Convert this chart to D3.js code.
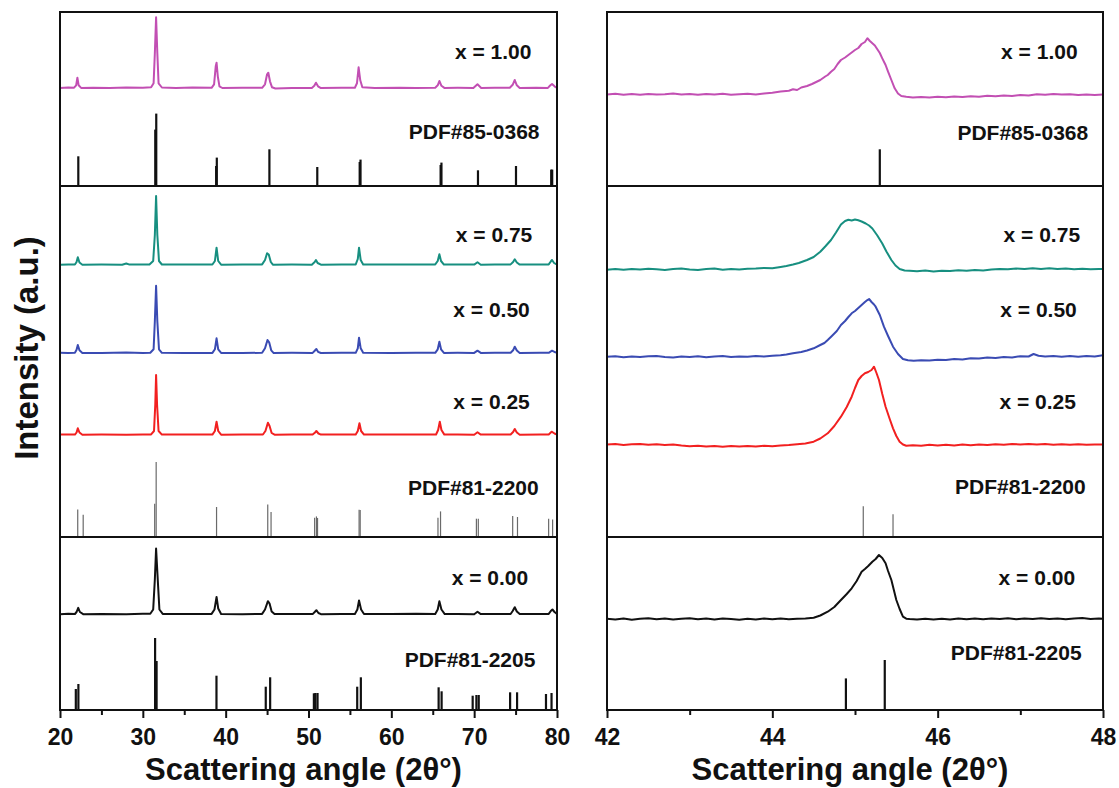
<!DOCTYPE html>
<html><head><meta charset="utf-8">
<script src="https://cdn.jsdelivr.net/npm/d3@7"></script>
<style>
html,body{margin:0;padding:0;background:#fff;}
text{font-family:"Liberation Sans",Arial,Helvetica,sans-serif;font-weight:bold;fill:#111;}
</style></head>
<body><svg id="chart" width="1119" height="788"></svg>
<script>
// ---------------- DATA ----------------
const sampleNames = ["x = 1.00","x = 0.75","x = 0.50","x = 0.25","x = 0.00"];
const refNames = ["PDF#85-0368","PDF#81-2200","PDF#81-2205"];
const sampleColors = ["#c24fb3","#178f80","#3a4bb3","#f22020","#111111"];

// stacking offsets (a.u.)
const wideOffsets = [621.7, 445, 356.7, 275, 95.5];
const zoomOffsets = [615, 440.5, 353, 265, 91];
const refOffsets = [524, 173, 0];
const dividerLevels = [524, 173];

// full-range patterns [2θ, intensity]
const wide100 = [[20.0,0.4],[21.0,0.8],[21.7,0.6],[21.95,3],[22.1,10.6],[22.25,3],[22.55,0.4],[24.0,0.6],[26.0,0.2],[28.0,0.7],[30.0,0.5],[31.0,1],[31.3,5],[31.45,35],[31.6,71],[31.75,35],[31.9,5],[32.3,0.8],[34.0,0.4],[36.0,0.7],[38.3,0.5],[38.6,4],[38.8,22],[38.9,25.6],[39.05,12],[39.25,2],[39.6,0.3],[42.0,0.6],[44.4,0.5],[44.75,4],[45.0,14],[45.15,15.6],[45.35,7],[45.6,1],[46.0,-0.2],[48.0,0.4],[50.4,0.4],[50.7,2.5],[50.9,5.6],[51.15,2],[51.5,0.2],[54.0,0.5],[55.6,0.6],[55.85,5],[56.05,21],[56.25,8],[56.5,1],[58.0,0.3],[61.0,0.6],[63.0,0.2],[65.3,0.6],[65.6,3],[65.8,7.3],[66.05,2.5],[66.4,0.4],[68.0,0.5],[69.9,0.3],[70.4,4],[70.85,0.3],[72.5,0.6],[74.3,0.5],[74.65,3.5],[74.9,8.3],[75.15,3],[75.5,0.3],[77.5,0.6],[78.9,0.4],[79.2,3],[79.4,4.3],[79.7,2],[80.0,0.4]];
const wide075 = [[20.0,0.3],[21.0,0.6],[21.8,0.5],[22.0,3],[22.15,7.7],[22.35,2.5],[22.7,0.3],[25.0,0.5],[27.5,0.3],[28.0,1.5],[28.4,0.4],[30.8,0.5],[31.25,4],[31.45,30],[31.6,69],[31.75,30],[31.95,4],[32.3,0.5],[35.0,0.6],[38.4,0.5],[38.7,4],[38.9,17.3],[39.1,4],[39.45,0.3],[42.0,0.5],[44.4,0.6],[44.75,5],[45.0,11.7],[45.2,10.5],[45.45,3],[45.7,0.3],[48.0,0.5],[50.4,0.3],[50.75,3],[50.9,5],[51.1,2],[51.5,0.3],[54.0,0.6],[55.7,0.6],[55.95,6],[56.1,17.3],[56.3,5],[56.6,0.6],[60.0,0.4],[63.0,0.5],[65.3,0.6],[65.6,4],[65.8,10.7],[66.0,4],[66.35,0.4],[68.0,0.6],[70.0,0.4],[70.4,2.7],[70.8,0.3],[72.5,0.5],[74.4,0.6],[74.7,3],[74.9,5.7],[75.15,2.5],[75.5,0.4],[78.0,0.5],[79.0,0.6],[79.25,3.5],[79.4,5],[79.65,2],[80.0,0.3]];
const wide050 = [[20.0,0.5],[21.0,0.3],[21.8,0.6],[22.0,3.5],[22.15,8.3],[22.35,3],[22.7,0.4],[25.0,0.3],[28.0,0.8],[30.0,0.3],[30.9,0.6],[31.3,4],[31.45,32],[31.6,67.6],[31.75,32],[31.95,4],[32.3,0.5],[35.0,0.3],[38.4,0.4],[38.7,4],[38.9,15],[39.1,4],[39.45,0.4],[42.0,0.3],[44.4,0.5],[44.75,5],[45.05,13.3],[45.25,11],[45.5,3],[45.8,0.2],[48.0,0.5],[50.5,0.4],[50.75,2.5],[50.95,4.3],[51.15,1.5],[51.5,0.3],[54.0,0.5],[55.7,0.5],[55.95,5],[56.1,15.6],[56.3,5],[56.6,0.5],[60.0,0.3],[63.0,0.6],[65.3,0.5],[65.6,4],[65.8,11.6],[66.0,4],[66.35,0.4],[68.0,0.5],[70.0,0.4],[70.4,2.6],[70.8,0.4],[72.5,0.5],[74.4,0.5],[74.7,3],[74.9,6.6],[75.15,2.8],[75.5,0.4],[78.0,0.5],[79.0,0.5],[79.4,2.6],[79.8,1],[80.0,0.5]];
const wide025 = [[20.0,0.4],[21.0,0.5],[21.8,0.4],[22.0,2.5],[22.15,6.7],[22.35,2.5],[22.7,0.3],[25.0,0.5],[28.0,0.3],[30.0,0.5],[31.0,0.6],[31.35,4],[31.5,30],[31.6,60],[31.72,30],[31.9,4],[32.3,0.4],[35.0,0.5],[38.4,0.4],[38.7,4],[38.9,13.3],[39.1,4],[39.45,0.3],[42.0,0.5],[44.5,0.5],[44.8,4],[45.1,12.3],[45.3,9],[45.55,2],[45.9,0.3],[48.0,0.4],[50.5,0.4],[50.8,2.5],[50.95,4],[51.2,1.5],[51.5,0.4],[54.0,0.5],[55.7,0.4],[55.95,4],[56.15,11.7],[56.35,4],[56.7,0.4],[60.0,0.5],[63.0,0.4],[65.4,0.5],[65.65,5],[65.85,13.3],[66.05,5],[66.4,0.4],[68.0,0.5],[70.0,0.3],[70.4,2.7],[70.8,0.4],[72.5,0.4],[74.4,0.5],[74.7,3],[74.9,6],[75.15,2.5],[75.5,0.3],[78.0,0.4],[79.0,0.5],[79.35,3.3],[79.7,1.5],[80.0,0.4]];
const wide000 = [[20.0,0.3],[21.0,0.8],[21.8,0.5],[22.0,2.5],[22.2,6.6],[22.4,2.5],[22.8,0.3],[25.0,0.6],[28.0,0.2],[30.0,0.7],[30.9,0.8],[31.25,5],[31.45,35],[31.6,66],[31.8,35],[32.0,5],[32.4,0.6],[35.0,0.4],[38.3,0.6],[38.65,5],[38.9,17.6],[39.1,6],[39.45,0.5],[42.0,0.3],[44.4,0.6],[44.75,5],[45.1,13.3],[45.3,11],[45.55,3],[45.9,0.4],[48.0,0.6],[50.5,0.4],[50.75,2.5],[50.95,4.3],[51.2,1.5],[51.5,0.3],[54.0,0.6],[55.6,0.6],[55.9,5],[56.1,14],[56.35,5],[56.7,0.5],[60.0,0.4],[63.0,0.7],[65.3,0.5],[65.6,5],[65.8,13.3],[66.05,5],[66.45,0.4],[68.0,0.5],[70.0,0.3],[70.4,2.7],[70.8,0.4],[72.5,0.6],[74.4,0.5],[74.65,3.5],[74.9,7.3],[75.15,3],[75.5,0.4],[78.0,0.5],[79.0,0.6],[79.25,3.5],[79.45,5],[79.7,2.5],[80.0,0.5]];

// zoomed (200) region patterns [2θ, intensity]
const zoom100 = [[42.0,0.6],[42.1,1.2],[42.2,0.2],[42.3,0.9],[42.4,0.3],[42.5,1.1],[42.6,0.4],[42.7,0.8],[42.8,1.5],[42.9,0.5],[43.0,1],[43.1,0.3],[43.2,0.9],[43.3,0.4],[43.4,1.2],[43.5,0.2],[43.6,0.8],[43.7,1.3],[43.8,0.6],[43.9,1.5],[44.0,2.2],[44.1,3.5],[44.2,4.2],[44.25,5.7],[44.3,5],[44.35,7.5],[44.42,9],[44.48,11],[44.53,13],[44.58,15],[44.64,18.5],[44.67,20],[44.71,23.3],[44.75,26],[44.79,31],[44.83,35],[44.88,37.5],[44.92,40],[44.96,42.5],[45.0,45],[45.04,47],[45.08,51],[45.12,53],[45.15,56.7],[45.18,54],[45.21,51.7],[45.24,49.5],[45.27,45.7],[45.3,42],[45.33,36.7],[45.37,30],[45.4,23.3],[45.44,15],[45.48,6.7],[45.52,1.5],[45.56,-1],[45.62,-1.8],[45.7,-2.5],[45.8,-2],[45.9,-2.6],[46.0,-1.8],[46.1,-2.3],[46.2,-1.5],[46.3,-2],[46.4,-1.2],[46.5,-1.7],[46.6,-0.8],[46.7,-1.3],[46.8,-0.4],[46.9,-0.9],[47.0,0],[47.1,-0.5],[47.2,0.8],[47.3,0.2],[47.4,1],[47.5,0.4],[47.6,0.7],[47.7,0],[47.8,0.6],[47.9,0.1],[48.0,0.5]];
const zoom075 = [[42.0,-0.3],[42.1,0.5],[42.2,-0.2],[42.3,0.6],[42.4,0],[42.5,0.8],[42.6,0.2],[42.7,-0.4],[42.8,0.5],[42.9,1],[43.0,0.1],[43.1,-0.5],[43.2,0.4],[43.3,0.9],[43.4,-0.2],[43.5,0.6],[43.6,0.1],[43.7,0.7],[43.8,0.9],[43.9,1.6],[44.0,1.2],[44.1,2.5],[44.17,3.5],[44.25,5],[44.32,6.5],[44.42,9.5],[44.5,12.5],[44.58,17.8],[44.64,23],[44.71,29.5],[44.77,37],[44.83,45],[44.88,48.5],[44.92,49.8],[44.96,49],[45.0,50],[45.04,49.2],[45.08,48],[45.13,46],[45.17,44],[45.21,41],[45.27,34],[45.33,26],[45.38,18],[45.44,9.5],[45.49,4],[45.54,0.5],[45.6,-1],[45.66,-1.2],[45.75,-1.8],[45.85,-1],[45.95,-2],[46.05,-1.2],[46.15,-1.6],[46.25,-0.8],[46.35,-1.3],[46.45,-0.5],[46.55,-0.9],[46.65,0],[46.75,0.6],[46.85,0.2],[46.95,1],[47.05,0.4],[47.15,1.3],[47.25,0.6],[47.35,1.2],[47.45,0.5],[47.55,1],[47.65,0.3],[47.75,0.8],[47.85,0.2],[47.95,0.6],[48.0,0.4]];
const zoom050 = [[42.0,0.2],[42.1,0.8],[42.2,-0.3],[42.3,0.5],[42.4,-0.1],[42.5,0.7],[42.6,1],[42.7,0.1],[42.8,-0.4],[42.9,0.5],[43.0,0],[43.1,0.8],[43.2,-0.2],[43.3,0.4],[43.4,0.9],[43.5,0],[43.6,0.6],[43.7,0.2],[43.8,0.9],[43.9,0.4],[44.0,1.2],[44.1,1.8],[44.17,2.5],[44.25,3.7],[44.35,5],[44.42,6.5],[44.5,8.7],[44.58,12],[44.63,14],[44.67,17],[44.72,21],[44.78,26],[44.83,32],[44.88,36],[44.92,40],[44.96,43.7],[45.0,46],[45.04,49],[45.08,52],[45.12,55],[45.15,57],[45.17,58],[45.2,55],[45.23,52.5],[45.25,50.3],[45.3,42],[45.35,30.3],[45.4,21],[45.46,10.3],[45.52,3],[45.58,-2],[45.64,-3.2],[45.71,-3.7],[45.8,-3.2],[45.9,-3.6],[46.0,-2.7],[46.1,-3],[46.2,-2],[46.3,-2.4],[46.4,-1.2],[46.5,-1.6],[46.6,-0.5],[46.7,-1],[46.8,0],[46.9,-0.4],[47.0,0.8],[47.1,0.5],[47.16,3],[47.22,1.2],[47.3,0.4],[47.4,1],[47.5,0.3],[47.6,0.9],[47.7,0.2],[47.8,1.1],[47.9,0.4],[48.0,1.8]];
const zoom025 = [[42.0,0.4],[42.1,0.9],[42.2,0.1],[42.3,0.7],[42.4,1],[42.5,0.3],[42.6,0.8],[42.7,0],[42.8,0.4],[42.9,-0.6],[43.0,-1.2],[43.1,-0.8],[43.2,-1.6],[43.3,-1],[43.4,-1.7],[43.5,-1.1],[43.6,-1.5],[43.7,-0.9],[43.8,-1.6],[43.9,-0.8],[44.0,-1.2],[44.1,-0.4],[44.2,0],[44.3,0.8],[44.4,1.5],[44.5,3.3],[44.58,6.5],[44.67,11.7],[44.75,19],[44.83,28.3],[44.9,38],[44.96,48.3],[45.0,57],[45.04,65],[45.08,69],[45.12,71.7],[45.16,73],[45.2,75],[45.23,78.3],[45.26,72],[45.29,65],[45.33,51],[45.37,38.3],[45.42,26],[45.46,16.7],[45.5,9],[45.54,3.3],[45.58,0.5],[45.62,-0.7],[45.7,-0.2],[45.8,-0.8],[45.9,0.2],[46.0,-0.4],[46.1,0.3],[46.2,-0.5],[46.3,0.4],[46.4,-0.2],[46.5,0.6],[46.6,0.1],[46.7,0.8],[46.8,0.3],[46.9,1],[47.0,0.5],[47.1,1.1],[47.2,0.4],[47.3,0.9],[47.4,0.3],[47.5,0.8],[47.6,0.2],[47.7,0.7],[47.8,0.3],[47.9,0.6],[48.0,0.4]];
const zoom000 = [[42.0,0.3],[42.1,-0.5],[42.2,0.6],[42.3,-0.8],[42.4,0.2],[42.5,0.7],[42.6,-0.3],[42.7,0.5],[42.8,-0.6],[42.9,0.3],[43.0,0.8],[43.1,-0.2],[43.2,0.4],[43.3,-0.5],[43.4,0.6],[43.5,0],[43.6,-0.7],[43.7,0.2],[43.8,-0.4],[43.9,0.5],[44.0,-0.3],[44.1,0.4],[44.2,-0.2],[44.3,0.3],[44.4,0.6],[44.5,1.3],[44.58,3.5],[44.67,7.3],[44.75,12],[44.83,19],[44.9,25],[44.96,30.7],[45.02,38],[45.08,47.3],[45.12,50],[45.16,53],[45.21,57.3],[45.25,60],[45.29,64],[45.33,61],[45.37,55.7],[45.4,48],[45.44,39],[45.47,29],[45.5,19],[45.54,10],[45.58,2.3],[45.62,0.3],[45.66,0],[45.75,-0.5],[45.85,0.3],[45.95,-0.4],[46.05,0.2],[46.15,-0.6],[46.25,0.4],[46.35,-0.3],[46.45,0.5],[46.55,-0.2],[46.65,0.6],[46.75,0],[46.85,0.7],[46.95,-0.2],[47.05,0.5],[47.15,0.1],[47.25,0.8],[47.35,0],[47.45,0.6],[47.55,-0.3],[47.65,0.4],[47.75,0.9],[47.85,0.1],[47.95,0.5],[48.0,0.3]];

// reference stick patterns [2θ, intensity]
const pdf850368 = [[22.21,29.7],[31.5,56.4],[31.62,72.4],[38.85,20],[38.93,28.4],[45.28,36.7],[51.06,19],[56.18,24],[56.28,26.4],[65.95,21],[66.05,23.4],[70.46,15.7],[75.05,20],[79.3,16.4],[79.42,16.4]];
const pdf812200 = [[22.14,27.6],[22.80,22.3],[31.43,33.3],[31.61,75],[38.9,30],[45.08,32.6],[45.48,25],[50.74,19.3],[50.96,20.6],[51.09,19],[56.11,27.3],[56.24,27],[65.63,19.3],[65.94,25.6],[70.27,18.3],[70.50,18.3],[74.65,21],[75.23,20],[78.99,18.3],[79.47,17.6]];
const pdf812205 = [[21.91,21],[22.22,26],[31.48,72],[31.66,49],[38.89,34.3],[44.84,23.3],[45.37,32.7],[50.65,16.7],[50.83,17],[51.09,17],[55.88,23.3],[56.32,32.7],[65.71,22.7],[66.07,18.7],[69.82,14.3],[70.27,15],[70.55,15],[74.34,17.7],[75.18,17.7],[78.67,16],[79.34,17]];
const pdf850368Zoom = [[45.30,36.7]];
const pdf812200Zoom = [[45.10,30.7],[45.46,22.7]];
const pdf812205Zoom = [[44.89,31.6],[45.36,50]];

const wideTicks = [20,30,40,50,60,70,80];
const wideMinor = [25,35,45,55,65,75];
const zoomTicks = [42,44,46,48];
const zoomMinor = [43,45,47];
const xTitle = "Scattering angle (2θ°)";
const yTitle = "Intensity (a.u.)";

// ---------------- DRAW ----------------
const svg = d3.select("#chart");
svg.append("rect").attr("width",1119).attr("height",788).attr("fill","#fff");

const yDomain = [0, 698];
const plotTop = 12, plotBottom = 710;

function panel(cfg){
  const x = d3.scaleLinear().domain(cfg.domain).range([cfg.left, cfg.right]);
  const y = d3.scaleLinear().domain(yDomain).range([plotBottom, plotTop]);
  const g = svg.append("g");
  const cid = "clip"+cfg.id;
  svg.append("clipPath").attr("id",cid).append("rect")
    .attr("x",cfg.left).attr("y",plotTop).attr("width",cfg.right-cfg.left).attr("height",plotBottom-plotTop);
  const plot = g.append("g").attr("clip-path",`url(#${cid})`);

  cfg.sticks.forEach((s,i)=>{
    plot.append("g").selectAll("line").data(s.data).join("line")
      .attr("x1",d=>x(d[0])).attr("x2",d=>x(d[0]))
      .attr("y1",y(refOffsets[i])).attr("y2",d=>y(refOffsets[i]+d[1]))
      .attr("stroke",s.color).attr("stroke-width",s.width);
  });
  cfg.curves.forEach((c,i)=>{
    const line = d3.line().x(d=>x(d[0])).y(d=>y(cfg.offsets[i]+d[1]));
    plot.append("path").datum(c).attr("d",line).attr("fill","none")
      .attr("stroke",sampleColors[i]).attr("stroke-width",cfg.lw).attr("stroke-linejoin","round");
  });
  g.selectAll(".div").data(dividerLevels).join("line").attr("class","div")
    .attr("x1",cfg.left).attr("x2",cfg.right).attr("y1",d=>y(d)).attr("y2",d=>y(d))
    .attr("stroke","#111").attr("stroke-width",2);
  g.append("rect").attr("x",cfg.left).attr("y",plotTop).attr("width",cfg.right-cfg.left)
    .attr("height",plotBottom-plotTop).attr("fill","none").attr("stroke","#111").attr("stroke-width",2);
  const ax = g.append("g").attr("transform",`translate(0,${plotBottom})`)
    .call(d3.axisBottom(x).tickValues(cfg.ticks).tickSize(8).tickPadding(11).tickFormat(d3.format("d")));
  ax.select(".domain").remove();
  ax.selectAll(".tick line").attr("stroke","#111").attr("stroke-width",2);
  ax.selectAll(".tick text").style("font-size","23px").style("font-weight","bold")
    .attr("fill","#111").style("font-family",'"Liberation Sans",Arial,sans-serif');
  const mx = g.append("g").attr("transform",`translate(0,${plotBottom})`)
    .call(d3.axisBottom(x).tickValues(cfg.minor).tickSize(5).tickFormat(""));
  mx.select(".domain").remove();
  mx.selectAll(".tick line").attr("stroke","#111").attr("stroke-width",2);
  cfg.labels.forEach(l=>{
    g.append("text").attr("x",x(l.at)).attr("y",y(l.level)).attr("dy","0.36em")
      .attr("text-anchor","middle").style("font-size","21px").text(l.text);
  });
  g.append("text").attr("x",(cfg.left+cfg.right)/2-5).attr("y",780)
    .attr("text-anchor","middle").style("font-size","31px").text(xTitle);
}

panel({id:"L", domain:[20,80], left:60, right:557, ticks:wideTicks, minor:wideMinor, lw:2,
  offsets:wideOffsets, curves:[wide100,wide075,wide050,wide025,wide000],
  sticks:[{data:pdf850368,color:"#111",width:2.2},{data:pdf812200,color:"#6a6a6a",width:1.2},{data:pdf812205,color:"#111",width:2.2}],
  labels:[
    {text:sampleNames[0],at:72.3,level:658.3},
    {text:refNames[0],at:70.0,level:578.3},
    {text:sampleNames[1],at:72.4,level:475.7},
    {text:sampleNames[2],at:72.1,level:400.7},
    {text:sampleNames[3],at:72.1,level:308.3},
    {text:refNames[1],at:69.9,level:222.7},
    {text:sampleNames[4],at:71.9,level:132.7},
    {text:refNames[2],at:69.5,level:50.7}
  ]});

panel({id:"R", domain:[42,48], left:607, right:1103, ticks:zoomTicks, minor:zoomMinor, lw:2,
  offsets:zoomOffsets, curves:[zoom100,zoom075,zoom050,zoom025,zoom000],
  sticks:[{data:pdf850368Zoom,color:"#111",width:2.2},{data:pdf812200Zoom,color:"#6a6a6a",width:1.2},{data:pdf812205Zoom,color:"#111",width:2.2}],
  labels:[
    {text:sampleNames[0],at:47.23,level:658.3},
    {text:refNames[0],at:47.03,level:577.3},
    {text:sampleNames[1],at:47.26,level:476},
    {text:sampleNames[2],at:47.22,level:400.7},
    {text:sampleNames[3],at:47.21,level:308.3},
    {text:refNames[1],at:47.0,level:223.3},
    {text:sampleNames[4],at:47.2,level:132.7},
    {text:refNames[2],at:46.95,level:57.7}
  ]});

svg.append("text").attr("transform","translate(38,348) rotate(-90)")
  .attr("text-anchor","middle").style("font-size","33px").text(yTitle);
</script></body></html>
